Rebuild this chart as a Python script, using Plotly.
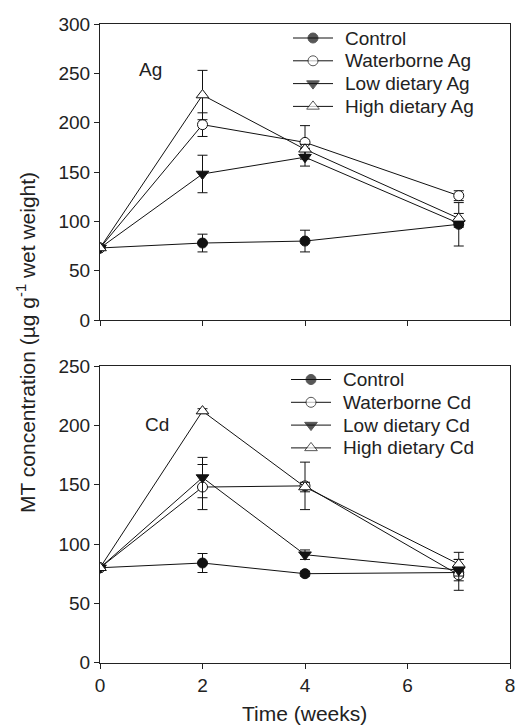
import plotly.graph_objects as go

# Sampling times (weeks)
weeks = [0, 2, 4, 7]

# Silver exposure: MT concentration (ug/g wet weight), mean and SE
ag_labels = ["Control", "Waterborne Ag", "Low dietary Ag", "High dietary Ag"]
ag_control = [73, 78, 80, 97]
ag_control_err = [0, 9, 11, 22]
ag_water = [73, 198, 180, 126]
ag_water_err = [0, 12, 17, 5]
ag_low = [73, 148, 165, 98]
ag_low_err = [0, 19, 9, 4]
ag_high = [73, 228, 173, 103]
ag_high_err = [0, 25, 5, 5]

# Cadmium exposure
cd_labels = ["Control", "Waterborne Cd", "Low dietary Cd", "High dietary Cd"]
cd_control = [80, 84, 75, 76]
cd_control_err = [0, 8, 2, 4]
cd_water = [80, 148, 149, 74]
cd_water_err = [0, 19, 20, 13]
cd_low = [80, 156, 91, 78]
cd_low_err = [0, 17, 4, 9]
cd_high = [80, 212, 148, 83]
cd_high_err = [0, 2, 4, 10]

FONT = "Liberation Sans, Arial, sans-serif"
INK = "#111111"
TXT = "#222222"
W, H = 516, 725

# marker symbol, size, fill for each treatment (same order as the labels)
styles = [
    ("circle", 10, INK),
    ("circle", 10, "white"),
    ("triangle-down", 11, INK),
    ("triangle-up", 11, "white"),
]

fig = go.Figure()


def marker_of(st):
    sym, size, fill = st
    return dict(symbol=sym, size=size, color=fill, line=dict(color=INK, width=1))


def add_panel(series, errors, xa, ya):
    for ys, es, st in zip(series, errors, styles):
        fig.add_trace(go.Scatter(
            x=weeks, y=ys, mode="lines+markers",
            xaxis=xa, yaxis=ya, showlegend=False,
            line=dict(color=INK, width=1),
            marker=marker_of(st),
            error_y=dict(type="data", array=es, visible=True,
                         color=INK, thickness=1, width=5),
        ))


add_panel([ag_control, ag_water, ag_low, ag_high],
          [ag_control_err, ag_water_err, ag_low_err, ag_high_err], "x", "y")
add_panel([cd_control, cd_water, cd_low, cd_high],
          [cd_control_err, cd_water_err, cd_low_err, cd_high_err], "x2", "y2")


def px_x(p):
    return p / W


def px_y(p):
    return 1 - p / H


def label(text, x, y, size=19, **kw):
    d = dict(text=text, x=px_x(x), y=px_y(y), xref="paper", yref="paper",
             xanchor="center", yanchor="middle", showarrow=False,
             font=dict(family=FONT, size=size, color=TXT))
    d.update(kw)
    return d


# Legend keys live on a hidden pixel-space overlay axis (x3/y3)
annotations = []


def add_legend(labels, left, top, step):
    for i, (name, st) in enumerate(zip(labels, styles)):
        yy = top + i * step
        fig.add_trace(go.Scatter(
            x=[left, left + 20, left + 40], y=[yy, yy, yy],
            mode="lines+markers", xaxis="x3", yaxis="y3", showlegend=False,
            hoverinfo="skip",
            line=dict(color=INK, width=1),
            marker=dict(marker_of(st), size=[0, st[1], 0]),
        ))
        annotations.append(label(name, left + 50, yy, xanchor="left"))


add_legend(ag_labels, 293, 38, 22.8)
add_legend(cd_labels, 291, 379.5, 22.8)

xdom = [px_x(100), px_x(510)]
axis_common = dict(
    showline=True, linecolor="#222222", linewidth=1, mirror=True,
    ticks="outside", ticklen=5, tickcolor="#222222", tickwidth=1,
    showgrid=False, zeroline=False, automargin=False,
    tickfont=dict(family=FONT, size=19, color=TXT),
)
hidden = dict(visible=False, showgrid=False, zeroline=False, automargin=False,
              fixedrange=True)

annotations += [
    label("Ag", 150, 70),
    label("Cd", 157, 425),
    label("Time (weeks)", 304, 713, size=21),
    label("MT concentration (µg g<sup>-1</sup> wet weight)", 26, 343, size=21,
          textangle=-90),
]

fig.update_layout(
    width=W, height=H,
    margin=dict(l=0, r=0, t=0, b=0, autoexpand=False),
    paper_bgcolor="white", plot_bgcolor="rgba(0,0,0,0)",
    font=dict(family=FONT, size=19, color=TXT),
    xaxis=dict(axis_common, domain=xdom, range=[0, 8], dtick=2,
               showticklabels=False, anchor="y"),
    yaxis=dict(axis_common, domain=[px_y(320), px_y(24)], range=[0, 300],
               dtick=50, anchor="x"),
    xaxis2=dict(axis_common, domain=xdom, range=[0, 8], dtick=2, anchor="y2"),
    yaxis2=dict(axis_common, domain=[px_y(662.7), px_y(366)], range=[0, 250],
                dtick=50, anchor="x2"),
    xaxis3=dict(hidden, domain=[0, 1], range=[0, W], anchor="y3"),
    yaxis3=dict(hidden, domain=[0, 1], range=[H, 0], anchor="x3"),
    showlegend=False,
    annotations=annotations,
)

fig.write_html("out.html")
